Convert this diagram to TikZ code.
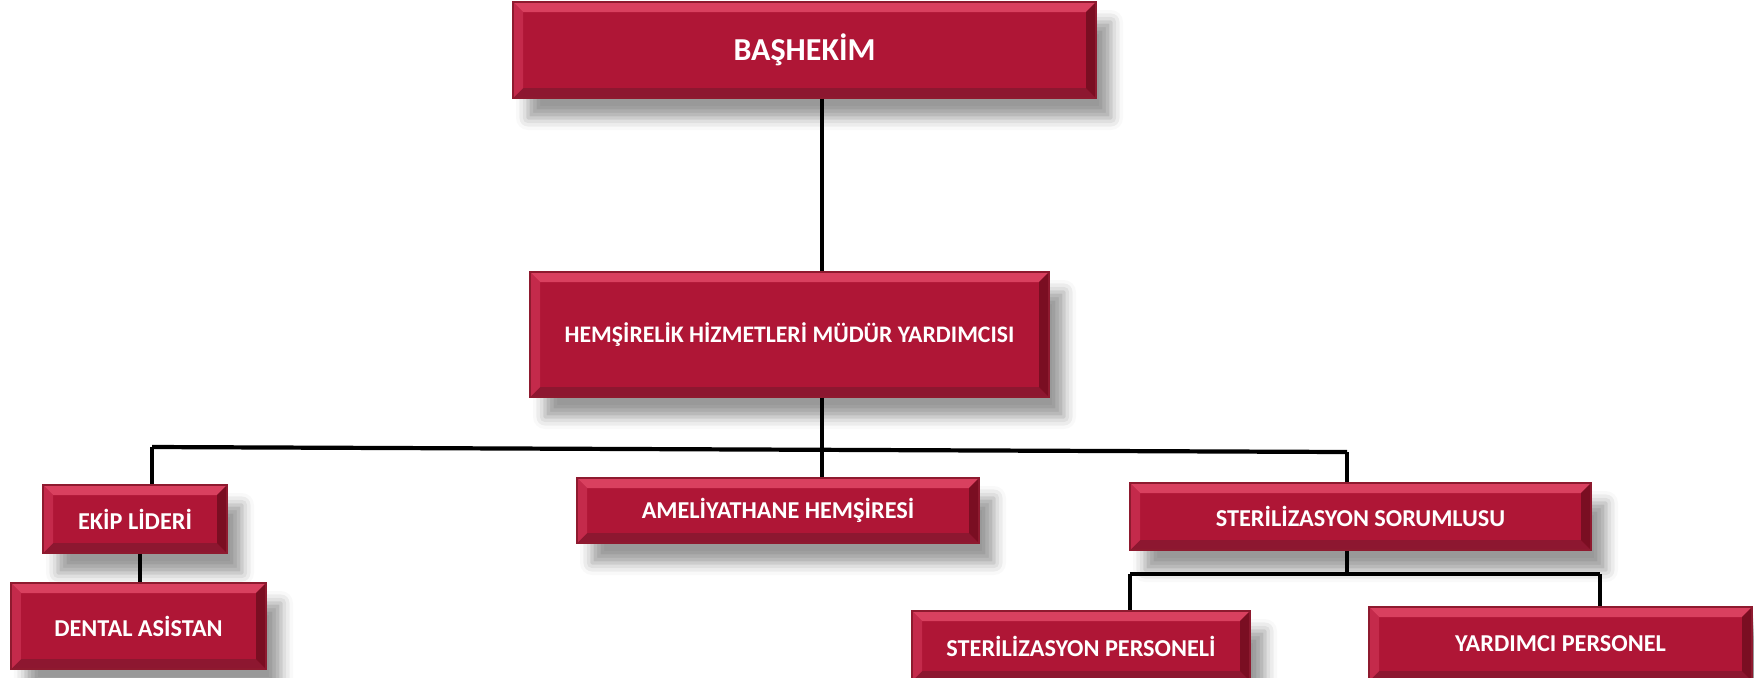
\documentclass[tikz,border=0pt]{standalone}
\usepackage{fontspec}
\setmainfont{Carlito}
\usetikzlibrary{shadows.blur}
\definecolor{boxface}{HTML}{AF1636}
\definecolor{boxline}{HTML}{8E1A2F}
\definecolor{bvtop}{HTML}{D9405F}
\definecolor{bvleft}{HTML}{C42A4B}
\definecolor{bvright}{HTML}{7A0E22}
\definecolor{bvbottom}{HTML}{8D1730}
\def\bv{1mm}
\tikzset{
  bevel/.style={path picture={
    \path (path picture bounding box.north west) coordinate (bNW)
          (path picture bounding box.north east) coordinate (bNE)
          (path picture bounding box.south east) coordinate (bSE)
          (path picture bounding box.south west) coordinate (bSW);
    \fill[bvtop] (bNW) -- (bNE) -- ([shift={(-\bv,-\bv)}]bNE) -- ([shift={(\bv,-\bv)}]bNW) -- cycle;
    \fill[bvbottom] (bSW) -- (bSE) -- ([shift={(-\bv,\bv)}]bSE) -- ([shift={(\bv,\bv)}]bSW) -- cycle;
    \fill[bvleft] (bNW) -- (bSW) -- ([shift={(\bv,\bv)}]bSW) -- ([shift={(\bv,-\bv)}]bNW) -- cycle;
    \fill[bvright] (bNE) -- (bSE) -- ([shift={(-\bv,\bv)}]bSE) -- ([shift={(-\bv,-\bv)}]bNE) -- cycle;
  }},
  orgbox/.style={draw=boxline, line width=0.4pt, fill=boxface, text=white,
    font=\bfseries\fontsize{6.9}{8}\selectfont, inner sep=0pt, bevel,
    blur shadow={shadow xshift=1.5mm, shadow yshift=-2mm, shadow opacity=40, shadow blur radius=1.2mm}},
  link/.style={line width=1.2pt, black},
}
\begin{document}
\begin{tikzpicture}
\useasboundingbox (0,0) rectangle (17.54,-6.77);
\node[orgbox, minimum width=5.83cm, minimum height=0.96cm, font=\bfseries\fontsize{9.1}{11}\selectfont] (bashekim) at (8.045,-0.50) {BAŞHEKİM};
\node[orgbox, minimum width=5.19cm, minimum height=1.25cm, font=\bfseries\fontsize{6.75}{8}\selectfont] (hemsirelik) at (7.895,-3.345) {HEMŞİRELİK HİZMETLERİ MÜDÜR YARDIMCISI};
\node[orgbox, minimum width=1.84cm, minimum height=0.68cm] (ekip) at (1.35,-5.19) {EKİP LİDERİ};
\node[orgbox, minimum width=2.55cm, minimum height=0.86cm] (dental) at (1.385,-6.26) {DENTAL ASİSTAN};
\node[orgbox, minimum width=4.02cm, minimum height=0.65cm] (ameliyat) at (7.78,-5.105) {AMELİYATHANE HEMŞİRESİ};
\node[orgbox, minimum width=4.61cm, minimum height=0.67cm] (sorumlu) at (13.605,-5.165) {STERİLİZASYON SORUMLUSU};
\node[orgbox, minimum width=3.38cm, minimum height=0.70cm] (sterper) at (10.81,-6.46) {STERİLİZASYON PERSONELİ};
\node[orgbox, minimum width=3.83cm, minimum height=0.74cm] (yardimci) at (15.605,-6.44) {YARDIMCI PERSONEL};
\coordinate (busL) at (1.52,-4.47);
\coordinate (busR) at (13.47,-4.52);
\coordinate (subL) at (11.30,-5.74);
\coordinate (subR) at (16.00,-5.74);
\draw[link] (bashekim.south -| 8.22,0) -- (hemsirelik.north -| 8.22,0);
\draw[link] (hemsirelik.south -| 8.22,0) -- (ameliyat.north -| 8.22,0);
\draw[link] (busL) -- (busR);
\draw[link] (busL) -- (busL |- ekip.north);
\draw[link] (busR) -- (busR |- sorumlu.north);
\draw[link] (ekip.south -| 1.40,0) -- (dental.north -| 1.40,0);
\draw[link] (sorumlu.south -| busR) -- (subL -| busR);
\draw[link] (subL) -- (subR);
\draw[link] (subL) -- (subL |- sterper.north);
\draw[link] (subR) -- (subR |- yardimci.north);
\end{tikzpicture}
\end{document}
